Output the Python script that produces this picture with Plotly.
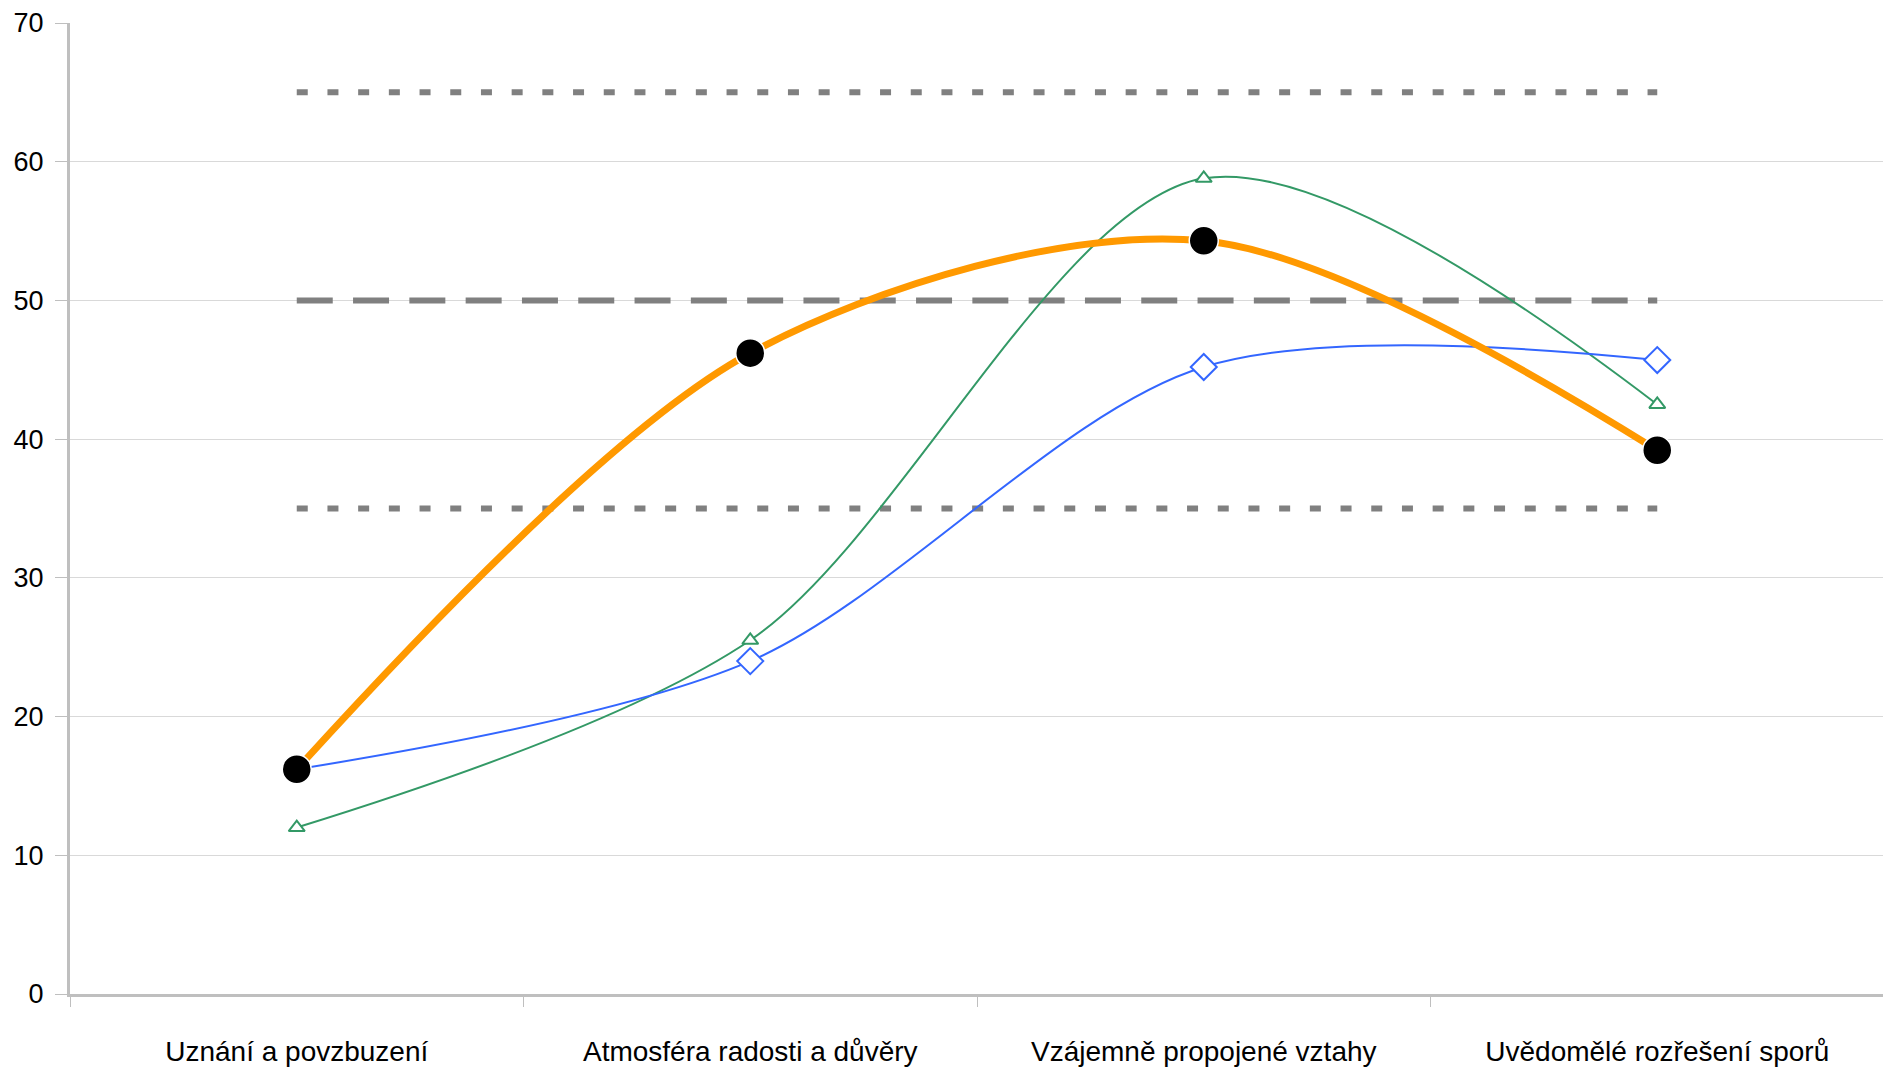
import plotly.graph_objects as go

categories = ["Uznání a povzbuzení", "Atmosféra radosti a důvěry",
              "Vzájemně propojené vztahy", "Uvědomělé rozřešení sporů"]
orange_vals = [16.2, 46.2, 54.3, 39.2]
blue_vals = [16.2, 24.0, 45.2, 45.7]
green_vals = [12.0, 25.5, 58.8, 42.5]
ref_upper = 65
ref_mid = 50
ref_lower = 35
y_ticks = [0, 10, 20, 30, 40, 50, 60, 70]

FONT = "Liberation Sans, Arial, sans-serif"
ref_x = [categories[0], categories[-1]]

fig = go.Figure()

# reference lines
for val, dash in [(ref_upper, "11px,19.7px"), (ref_mid, "36px,20.3px"), (ref_lower, "11px,19.7px")]:
    fig.add_trace(go.Scatter(x=ref_x, y=[val, val], mode="lines",
                             line=dict(color="#808080", width=6, dash=dash),
                             showlegend=False, hoverinfo="skip"))

fig.add_trace(go.Scatter(
    x=categories, y=green_vals, mode="lines+markers",
    line=dict(color="#339966", width=2, shape="spline", smoothing=0.9),
    marker=dict(symbol="triangle-up", size=14, color="white",
                line=dict(color="#339966", width=2)),
    showlegend=False))

fig.add_trace(go.Scatter(
    x=categories, y=blue_vals, mode="lines+markers",
    line=dict(color="#3366FF", width=2, shape="spline", smoothing=0.9),
    marker=dict(symbol="diamond", size=20, color="white",
                line=dict(color="#3366FF", width=2)),
    showlegend=False))

fig.add_trace(go.Scatter(
    x=categories, y=orange_vals, mode="lines+markers",
    line=dict(color="#FF9900", width=7, shape="spline", smoothing=0.9),
    marker=dict(symbol="circle", size=29, color="black",
                line=dict(color="white", width=1.5)),
    showlegend=False))

fig.update_layout(
    width=1883, height=1063,
    margin=dict(l=62, r=7, t=15, b=77, autoexpand=False),
    paper_bgcolor="white", plot_bgcolor="white",
    font=dict(family=FONT, color="black"),
)

fig.update_xaxes(
    type="category", categoryorder="array", categoryarray=categories,
    range=[-0.5, 3.5], automargin=False,
    showgrid=False, zeroline=False,
    showline=True, linecolor="#BFBFBF", linewidth=3,
    ticks="outside", tickson="boundaries", ticklen=10, tickcolor="#BFBFBF", tickwidth=1,
    tickfont=dict(family=FONT, size=28, color="black"),
    ticklabelstandoff=30,
)

fig.update_yaxes(
    range=[0, 70], tickvals=y_ticks, automargin=False,
    showgrid=True, gridcolor="#D9D9D9", gridwidth=1,
    zeroline=False,
    showline=True, linecolor="#BFBFBF", linewidth=3,
    ticks="outside", ticklen=12, tickcolor="#BFBFBF", tickwidth=1,
    tickfont=dict(family=FONT, size=27, color="black"),
    ticklabelstandoff=6,
)

fig.write_html("out.html")
